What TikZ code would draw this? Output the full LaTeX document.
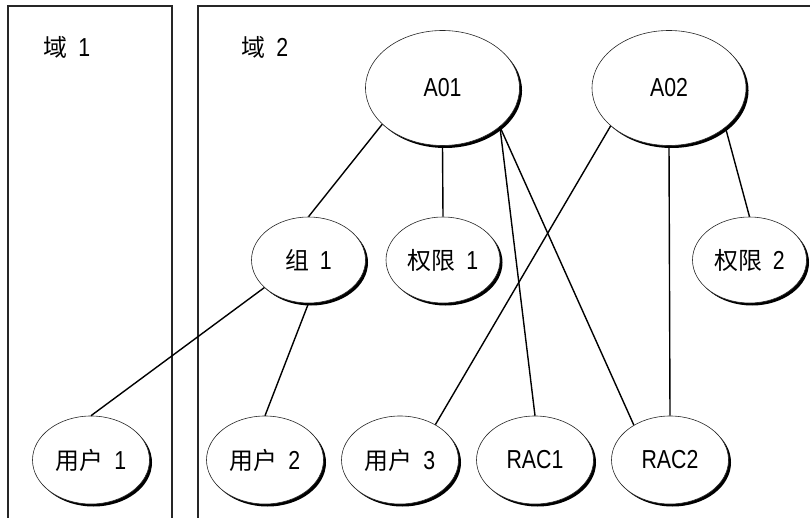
\documentclass[tikz,border=0pt]{standalone}
\usepackage{fontspec}
\setmainfont{Liberation Sans}[FakeStretch=0.82]
\newfontfamily\cjk{Noto Sans CJK SC}[Scale=0.92]
\usetikzlibrary{shapes.geometric,shadows}
\newcommand{\gap}{\hspace{0.42em}}
\tikzset{
  ov/.style={ellipse, draw=black!85, line width=0.6pt, fill=white, inner sep=0pt,
    font=\fontsize{26}{30}\selectfont,
    drop shadow={shadow xshift=2.5pt, shadow yshift=-2.5pt, fill=black, opacity=1}},
  bigov/.style={ov, minimum width=154pt, minimum height=115pt},
  midov/.style={ov, minimum width=114pt, minimum height=86pt},
  lowov/.style={ov, minimum width=117pt, minimum height=88pt},
  link/.style={line width=1.4pt, draw=black},
  dom/.style={draw=black!85, line width=2pt},
  domlabel/.style={inner sep=0pt, font=\fontsize{26}{30}\selectfont},
}
\begin{document}
\begin{tikzpicture}[x=1pt, y=-1pt]
\useasboundingbox (0,0) rectangle (810,518);
\clip (0,0) rectangle (810,518);
% domains
\draw[dom] (8,6) rectangle (172,522);
\draw[dom] (198,6) rectangle (814,522);
\node[domlabel] (d1) at (67,47) {{\cjk 域}\gap 1};
\node[domlabel] (d2) at (265,47) {{\cjk 域}\gap 2};
% nodes
\node[bigov] (a1) at (442.5,88) {A01};
\node[bigov] (a2) at (669,88) {A02};
\node[midov] (g1) at (308.5,260) {{\cjk 组}\gap 1};
\node[midov] (p1) at (443,260) {{\cjk 权限}\gap 1};
\node[midov] (p2) at (749.5,260) {{\cjk 权限}\gap 2};
\node[lowov] (u1) at (91,460) {{\cjk 用户}\gap 1};
\node[lowov] (u2) at (265,460) {{\cjk 用户}\gap 2};
\node[lowov] (u3) at (400,460) {{\cjk 用户}\gap 3};
\node[lowov] (r1) at (535,460) {RAC1};
\node[lowov] (r2) at (670,460) {RAC2};
% connectors
\draw[link] (a1.211.9) -- (g1.north);
\draw[link] (a1.south) -- (p1.north);
\draw[link] (a1.-34.8) -- (r1.north);
\draw[link] (a1.-34.8) -- (r2.136.6);
\draw[link] (a2.213) -- (u3.45);
\draw[link] (a2.south) -- (r2.north);
\draw[link] (a2.-35) -- (p2.north);
\draw[link] (g1.212.8) -- (u1.north);
\draw[link] (g1.south) -- (u2.north);
\end{tikzpicture}
\end{document}
